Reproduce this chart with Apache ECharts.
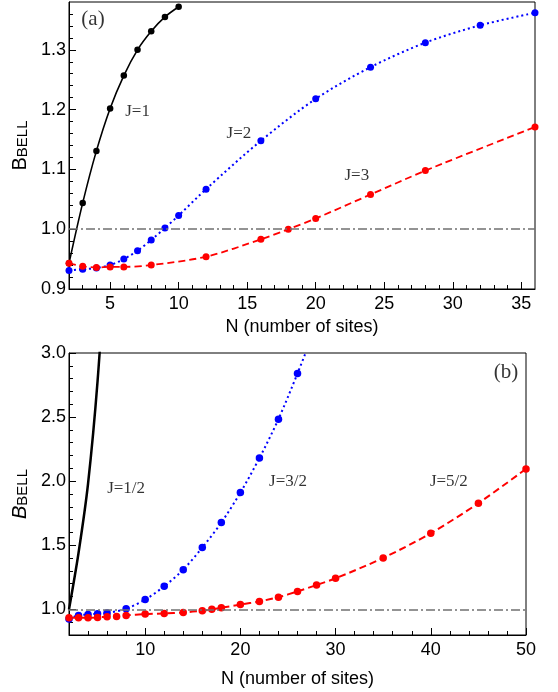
<!DOCTYPE html>
<html>
<head>
<meta charset="utf-8">
<script src="https://cdn.jsdelivr.net/npm/echarts@6/dist/echarts.min.js"></script>
<style>html,body{margin:0;padding:0;background:#fff}#c{width:558px;height:692px}</style>
</head>
<body>
<div id="c"></div>
<script>
// ---------- Panel (a) data ----------
const nA_J1 = [2, 3, 4, 5, 6, 7, 8, 9, 10];
const bA_J1 = [0.943, 1.044, 1.131, 1.202, 1.257, 1.300, 1.331, 1.355, 1.372];
const nA_J2 = [2, 3, 4, 5, 6, 7, 8, 9, 10, 12, 16, 20, 24, 28, 32, 36];
const bA_J2 = [0.931, 0.933, 0.935, 0.940, 0.950, 0.964, 0.982, 1.002, 1.023, 1.067, 1.148, 1.218, 1.271, 1.312, 1.341, 1.362];
const nA_J3 = [2, 3, 4, 5, 6, 8, 12, 16, 18, 20, 24, 28, 36];
const bA_J3 = [0.943, 0.938, 0.936, 0.937, 0.937, 0.940, 0.954, 0.983, 1.000, 1.018, 1.058, 1.098, 1.171];

// ---------- Panel (b) data ----------
const nB_J12 = [2, 3, 4, 5, 6];
const bB_J12 = [1.0, 1.44, 1.98, 2.78, 3.9];
const nB_J32 = [2, 3, 4, 5, 6, 8, 10, 12, 14, 16, 18, 20, 22, 24, 26, 28];
const bB_J32 = [0.925, 0.953, 0.960, 0.966, 0.971, 1.005, 1.076, 1.180, 1.310, 1.482, 1.677, 1.911, 2.180, 2.484, 2.841, 3.22];
const nB_J52 = [2, 3, 4, 5, 6, 7, 8, 10, 12, 14, 16, 17, 18, 20, 22, 24, 26, 28, 30, 35, 40, 45, 50];
const bB_J52 = [0.934, 0.934, 0.935, 0.937, 0.943, 0.945, 0.953, 0.963, 0.968, 0.976, 0.990, 1.000, 1.013, 1.037, 1.062, 1.095, 1.140, 1.190, 1.242, 1.401, 1.594, 1.828, 2.096];

// reference level
const refLevel = 1.0;

// ---------- Ticks ----------
const xTicksA = [5, 10, 15, 20, 25, 30, 35];
const xMinorA = [3, 4, 6, 7, 8, 9, 11, 12, 13, 14, 16, 17, 18, 19, 21, 22, 23, 24, 26, 27, 28, 29, 31, 32, 33, 34];
const yTicksA = [0.9, 1.0, 1.1, 1.2, 1.3];
const yMinorA = [0.92, 0.94, 0.96, 0.98, 1.02, 1.04, 1.06, 1.08, 1.12, 1.14, 1.16, 1.18, 1.22, 1.24, 1.26, 1.28, 1.32, 1.34, 1.36];
const xTicksB = [10, 20, 30, 40, 50];
const xMinorB = [4, 6, 8, 12, 14, 16, 18, 22, 24, 26, 28, 32, 34, 36, 38, 42, 44, 46, 48];
const yTicksB = [1.0, 1.5, 2.0, 2.5, 3.0];
const yMinorB = [0.9, 1.1, 1.2, 1.3, 1.4, 1.6, 1.7, 1.8, 1.9, 2.1, 2.2, 2.3, 2.4, 2.6, 2.7, 2.8, 2.9];

// ---------- Annotations (text, N, B) ----------
const notesA = [['J=1', 7.0, 1.197], ['J=2', 14.4, 1.160], ['J=3', 23.0, 1.090], ['(a)', 3.75, 1.350]];
const notesB = [['J=1/2', 8.0, 1.945], ['J=3/2', 25.0, 2.000], ['J=5/2', 41.9, 2.000], ['(b)', 47.9, 2.850]];

const zip = (xs, ys) => xs.map((x, i) => [x, ys[i]]);
const SANS = 'Liberation Sans';
const SERIF = 'Liberation Serif';
const FS = 18;

function mainX(grid, min, max, ticks, nameGap) {
  return {
    type: 'value', gridIndex: grid, min: min, max: max, position: 'bottom',
    axisLine: { onZero: false, lineStyle: { color: '#000', width: 1 } },
    axisTick: { inside: true, length: 7, lineStyle: { color: '#000' }, customValues: ticks },
    axisLabel: { customValues: ticks, margin: 6, color: '#000', fontSize: FS, fontFamily: SANS },
    splitLine: { show: false },
    name: 'N (number of sites)', nameLocation: 'middle', nameGap: nameGap,
    nameTextStyle: { color: '#000', fontSize: FS, fontFamily: SANS }
  };
}
function minorX(grid, min, max, ticks) {
  return {
    type: 'value', gridIndex: grid, min: min, max: max, position: 'bottom',
    axisLine: { show: false, onZero: false },
    axisTick: { inside: true, length: 4, lineStyle: { color: '#000' }, customValues: ticks },
    axisLabel: { show: false }, splitLine: { show: false }
  };
}
function mainY(grid, min, max, ticks, italic) {
  return {
    type: 'value', gridIndex: grid, min: min, max: max, position: 'left',
    axisLine: { onZero: false, lineStyle: { color: '#000', width: 1 } },
    axisTick: { inside: true, length: 7, lineStyle: { color: '#000' }, customValues: ticks },
    axisLabel: { customValues: ticks, margin: 3, color: '#000', fontSize: FS, fontFamily: SANS,
      formatter: v => Number(v).toFixed(1) },
    splitLine: { show: false },
    name: '{b|B}{s|BELL}', nameLocation: 'middle', nameRotate: 90, nameGap: 37,
    nameTextStyle: {
      rich: {
        b: { fontSize: 20, fontFamily: SANS, color: '#000', fontStyle: italic ? 'italic' : 'normal', verticalAlign: 'bottom', lineHeight: 22 },
        s: { fontSize: 15, fontFamily: SANS, color: '#000', verticalAlign: 'bottom', lineHeight: 22 }
      }
    }
  };
}
function minorY(grid, min, max, ticks) {
  return {
    type: 'value', gridIndex: grid, min: min, max: max, position: 'left',
    axisLine: { show: false, onZero: false },
    axisTick: { inside: true, length: 4, lineStyle: { color: '#000' }, customValues: ticks },
    axisLabel: { show: false }, splitLine: { show: false }
  };
}

const refLine = {
  silent: true, symbol: ['none', 'none'], label: { show: false },
  lineStyle: { color: '#707070', width: 1.5, type: [9, 3, 2, 3] },
  data: [{ yAxis: refLevel }]
};

function curve(xi, yi, data, color, width, dash, symSize, extra) {
  return Object.assign({
    type: 'line', xAxisIndex: xi, yAxisIndex: yi, data: data,
    smooth: 0.3,
    symbol: symSize > 0 ? 'circle' : 'none', symbolSize: symSize, showSymbol: symSize > 0,
    itemStyle: { color: color },
    lineStyle: { color: color, width: width, type: dash },
    clip: true, silent: true, animation: false
  }, extra || {});
}

function notes(xi, yi, list) {
  return {
    type: 'scatter', xAxisIndex: xi, yAxisIndex: yi, silent: true, animation: false,
    symbol: 'circle', symbolSize: 1, itemStyle: { color: 'rgba(0,0,0,0)' },
    data: list.map(d => ({ name: d[0], value: [d[1], d[2]] })),
    label: {
      show: true, position: 'inside', formatter: p => p.name,
      color: '#000', fontFamily: SERIF, fontSize: 17
    },
    z: 10
  };
}

const notesASeries = notes(0, 0, notesA);
notesASeries.data[3].label = { fontSize: 21 };
const notesBSeries = notes(2, 2, notesB);
notesBSeries.data[3].label = { fontSize: 21 };

const option = {
  backgroundColor: '#fff',
  animation: false,
  grid: [
    { left: 69, top: 2, width: 466, height: 287, show: true, borderColor: '#000', borderWidth: 1, backgroundColor: 'transparent', containLabel: false },
    { left: 69, top: 353, width: 457, height: 282, show: true, borderColor: '#000', borderWidth: 1, backgroundColor: 'transparent', containLabel: false }
  ],
  xAxis: [
    mainX(0, 2, 36, xTicksA, 29),
    minorX(0, 2, 36, xMinorA),
    mainX(1, 2, 50, xTicksB, 35),
    minorX(1, 2, 50, xMinorB)
  ],
  yAxis: [
    mainY(0, 0.9, 1.38, yTicksA, false),
    minorY(0, 0.9, 1.38, yMinorA),
    mainY(1, 0.8, 3.0, yTicksB, true),
    minorY(1, 0.8, 3.0, yMinorB)
  ],
  series: [
    curve(0, 0, zip(nA_J1, bA_J1), '#000000', 1.6, 'solid', 6.5, { markLine: refLine }),
    curve(0, 0, zip(nA_J2, bA_J2), '#0000ff', 2, [2, 3], 7),
    curve(0, 0, zip(nA_J3, bA_J3), '#ff0000', 1.8, [7, 4], 7),
    notesASeries,
    curve(2, 2, zip(nB_J12, bB_J12), '#000000', 2.5, 'solid', 0, { markLine: refLine }),
    curve(2, 2, zip(nB_J32, bB_J32), '#0000ff', 2, [2, 3], 7.5),
    curve(2, 2, zip(nB_J52, bB_J52), '#ff0000', 2, [7, 4], 7.5),
    notesBSeries
  ]
};

const chart = echarts.init(document.getElementById('c'), null, { renderer: 'canvas' });
chart.setOption(option);
</script>
</body>
</html>
